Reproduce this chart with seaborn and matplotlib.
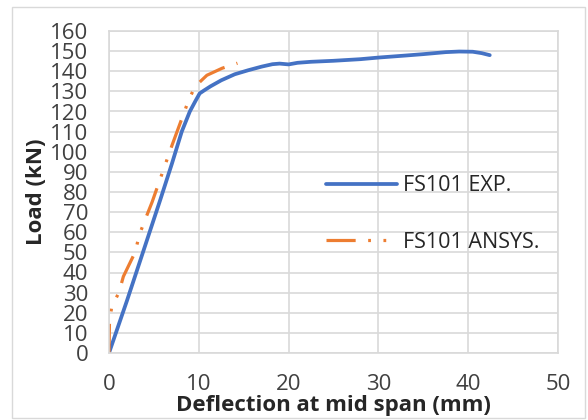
import pandas as pd
import seaborn as sns
import matplotlib.pyplot as plt

exp_defl = [0, 2.0, 4.0, 5.7, 7.0, 8.1, 9.0, 9.6, 10.1, 10.6, 11.3, 12.5, 14.0, 15.5,
            17.0, 18.2, 19.0, 20.0, 21.0, 22.5, 25.0, 28.0, 30.0, 33.0, 35.0, 37.5,
            39.0, 40.5, 41.5, 42.4]
exp_load = [0, 26, 53, 76, 94, 110, 120, 125, 129, 130.5, 132.5, 135.5, 138.5, 140.5,
            142.3, 143.5, 143.8, 143.4, 144.2, 144.7, 145.2, 146.0, 146.8, 147.8, 148.5,
            149.5, 149.8, 149.7, 149.0, 148.0]

# ANSYS curve
ansys_defl = [0, 0.05, 0.3, 1.1, 1.6, 2.9, 3.4, 4.0, 4.8, 5.9, 7.0, 8.9, 9.6, 10.9, 12.6, 14.3]
ansys_load = [0, 15, 23, 30, 38, 50, 59, 66, 75, 89, 103, 126, 132.5, 138, 141.5, 144]

labels = ["FS101 EXP.", "FS101 ANSYS."]

df = pd.concat([
    pd.DataFrame({"defl": exp_defl, "load": exp_load, "series": labels[0]}),
    pd.DataFrame({"defl": ansys_defl, "load": ansys_load, "series": labels[1]}),
])

sns.set_style("white")
plt.rcParams["font.family"] = ["Open Sans", "DejaVu Sans"]
plt.rcParams["lines.scale_dashes"] = False

fig = plt.figure(figsize=(5.88, 4.2), dpi=100)
ax = fig.add_axes([109 / 588, 1 - 353 / 420, 449 / 588, 322 / 420])

dash = (21, 9, 2.0, 9, 2.0, 9)
sns.lineplot(
    data=df, x="defl", y="load", hue="series", style="series",
    palette={labels[0]: "#4472C4", labels[1]: "#ED7D31"},
    dashes={labels[0]: "", labels[1]: dash},
    sort=False, estimator=None, ax=ax,
)
for ln, w in zip(ax.lines, [2.7, 2.3]):
    ln.set_linewidth(w)
    ln.set_solid_capstyle("round")

ax.set_xlim(0, 50)
ax.set_ylim(0, 160)
ax.set_xticks(range(0, 51, 10))
ax.set_yticks(range(0, 161, 10))
ax.grid(True, color="#D9D9D9", linewidth=1.2)
ax.set_axisbelow(True)
for s in ax.spines.values():
    s.set_color("#D9D9D9")
    s.set_linewidth(1.2)
ax.tick_params(length=0, labelsize=16, labelcolor="#404040")
ax.tick_params(axis="x", pad=15)
ax.tick_params(axis="y", pad=15)

ax.set_xlabel("Deflection at mid span (mm)", fontsize=16, fontweight="bold", labelpad=0)
ax.set_ylabel("Load (kN)", fontsize=16, fontweight="bold", labelpad=2)

leg = ax.legend(loc="center left", bbox_to_anchor=(0.44, 0.432), frameon=False,
                fontsize=15.5, handlelength=3.3, labelspacing=1.65, handletextpad=0.3)
for h, w in zip(leg.get_lines(), [2.7, 2.3]):
    h.set_linewidth(w)
    if h.get_color() == "#ED7D31":
        h.set_dashes(dash)

fig.add_artist(plt.Rectangle((12 / 588, 2 / 420), 573 / 588, 411 / 420,
                             transform=fig.transFigure, fill=False,
                             edgecolor="#D9D9D9", linewidth=1))

fig.savefig("out.png", dpi=100)
